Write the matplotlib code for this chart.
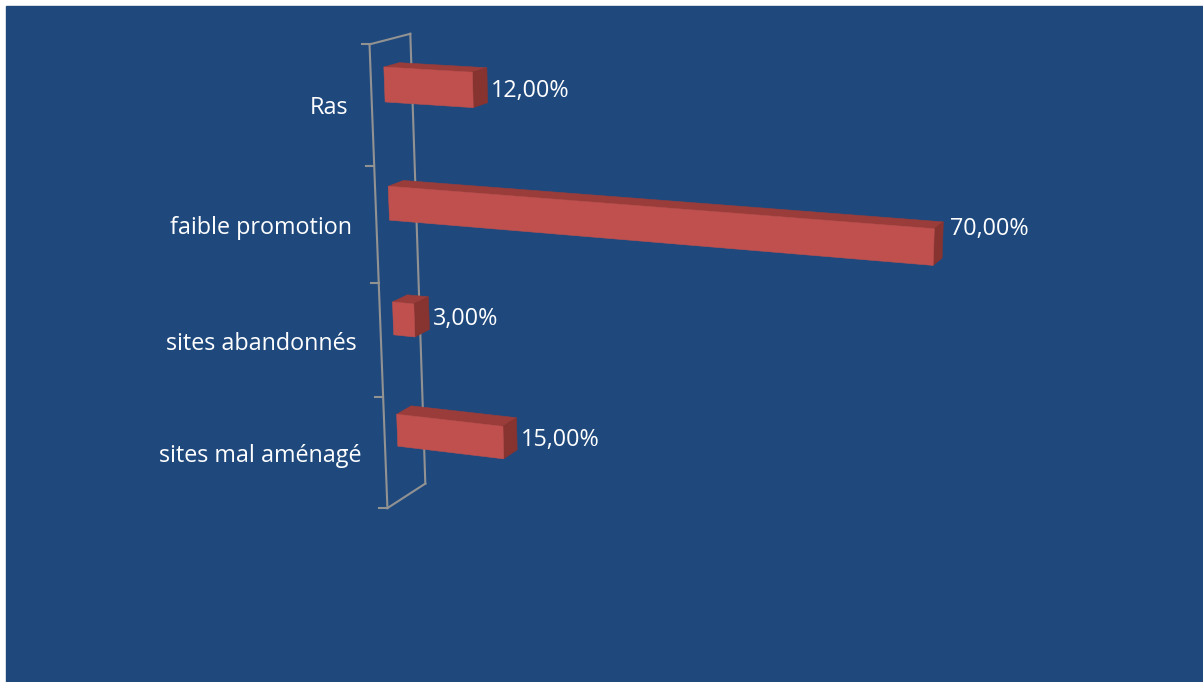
import numpy as np
import matplotlib
matplotlib.use("Agg")
import matplotlib.pyplot as plt
from matplotlib.patches import Polygon, Rectangle

# chart data
categories = ["Ras", "faible promotion", "sites abandonnés", "sites mal aménagé"]
values = [12.0, 70.0, 3.0, 15.0]
value_labels = ["12,00%", "70,00%", "3,00%", "15,00%"]

# bar box inside each category cell (category units / depth units)
bar_top, bar_bot = 0.215, 0.505
bar_front, bar_back = 0.32, 0.70

# perspective camera of the 3-D view: (value %, category, depth) -> pixel
P = np.array([
    [6.919104, 10.47347, 54.87876, 369.5236],
    [0.3521981, 123.8072, -9.422055, 44.37398],
    [-0.001193117, 0.01548474, 0.03438429, 1.0],
])


def project(X, Y, Z):
    w = P @ np.array([X, Y, Z, 1.0])
    return w[0] / w[2], w[1] / w[2]


bg = "#1F497D"
front_col = "#C0504D"
top_col = "#9A3C39"
side_col = "#87332F"
wall_col = "#929292"
font = "Open Sans"
fsize = 16.8

fig = plt.figure(figsize=(12.03, 6.82), dpi=100)
ax = fig.add_axes([0, 0, 1, 1])
ax.set_xlim(0, 1203)
ax.set_ylim(682, 0)
ax.axis("off")
ax.add_patch(Rectangle((6, 6), 1203, 682, color=bg, zorder=0))

n = len(categories)
# wall at value 0
for a, b in [((0, 0, 0), (0, n, 0)), ((0, 0, 1), (0, n, 1)),
             ((0, 0, 0), (0, 0, 1)), ((0, n, 0), (0, n, 1))]:
    pa, pb = project(*a), project(*b)
    ax.plot([pa[0], pb[0]], [pa[1], pb[1]], color=wall_col, lw=1.5, zorder=1)
for k in range(n + 1):
    tx, ty = project(0, k, 0)
    ax.plot([tx - 8, tx], [ty, ty], color=wall_col, lw=1.5, zorder=1)

label_nudge = [(0, 0), (3, -17), (0, 0), (0, 0)]
for i, (cat, val, lab) in enumerate(zip(categories, values, value_labels)):
    y0, y1 = i + bar_top, i + bar_bot
    z0, z1 = bar_front, bar_back
    top = [project(0, y0, z0), project(val, y0, z0), project(val, y0, z1), project(0, y0, z1)]
    side = [project(val, y0, z0), project(val, y0, z1), project(val, y1, z1), project(val, y1, z0)]
    front = [project(0, y0, z0), project(val, y0, z0), project(val, y1, z0), project(0, y1, z0)]
    for face, col in [(top, top_col), (side, side_col), (front, front_col)]:
        ax.add_patch(Polygon(face, closed=True, fc=col, ec=col, lw=0.4, zorder=2))

    # category name left of the wall
    cx, cy = project(0, i + 0.5, 0)
    ax.text(cx - 24, cy + 3, cat, ha="right", va="center", color="white",
            fontsize=fsize, family=font, zorder=3)

    # value label at the end of the bar
    lx, ly = project(val, i + (bar_top + bar_bot) / 2, z1)
    dx, dy = label_nudge[i]
    ax.text(lx + 4 + dx, ly + 6 + dy, lab, ha="left", va="center", color="white",
            fontsize=fsize, family=font, zorder=3)

fig.savefig("out.png", dpi=100, facecolor="white")
